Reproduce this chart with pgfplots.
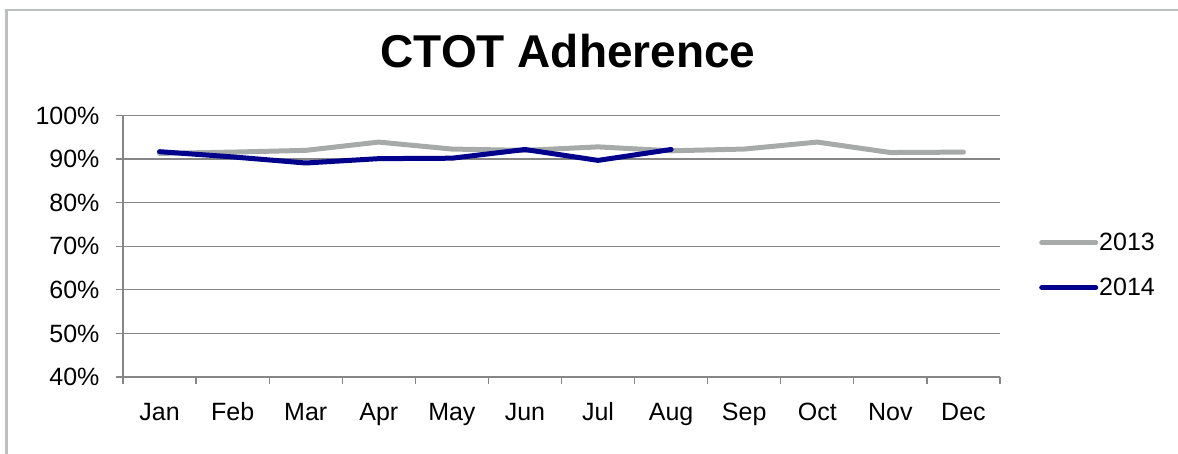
\documentclass[border=0pt]{standalone}
\usepackage{pgfplots}
\pgfplotsset{compat=1.18}
\usepackage{fontspec}
\setmainfont{Liberation Sans}
\definecolor{gline}{RGB}{166,171,170}
\definecolor{bline}{RGB}{0,0,140}
\definecolor{gridc}{RGB}{134,134,134}
\definecolor{framec}{RGB}{188,192,188}
\begin{document}
\begin{tikzpicture}[x=1pt,y=1pt]
\useasboundingbox (0,0) rectangle (1178,454);
\draw[framec, line width=2.5pt] (6.5,-10) -- (6.5,444) -- (1190,444);
\node[anchor=base, font=\fontsize{46}{50}\selectfont\bfseries, inner sep=0pt] at (568,386) {CTOT Adherence};
\begin{axis}[
  at={(123pt,77pt)}, anchor=south west, scale only axis,
  width=877pt, height=261.5pt,
  xmin=0.5, xmax=12.5, ymin=40, ymax=100,
  axis lines*=left,
  axis line style={gridc, line width=1.3pt, -},
  xtick={1,...,12},
  xticklabels={Jan,Feb,Mar,Apr,May,Jun,Jul,Aug,Sep,Oct,Nov,Dec},
  minor xtick={0.5,1.5,...,12.5},
  ytick={40,50,...,100},
  minor ytick={40,50,...,100},
  major tick length=0pt, minor tick length=7pt,
  tick align=outside,
  tick style={gridc, line width=1.3pt},
  ymajorgrids, grid style={gridc, line width=1.3pt},
  /pgf/number format/assume math mode=true,
  yticklabel={\pgfmathprintnumber{\tick}\%},
  ticklabel style={font=\fontsize{25}{30}\selectfont},
  yticklabel style={xshift=-20pt},
  xticklabel style={anchor=base, yshift=-44pt},
  legend style={draw=none, fill=none, at={(axis description cs:1.0445,0.428)}, anchor=west,
    font=\fontsize{25}{30}\selectfont, inner sep=0pt, row sep=24pt,
    nodes={inner sep=1pt}},
  legend cell align=left,
  legend image code/.code={\draw[#1, line width=5pt, line cap=round] (0pt,0pt) -- (54pt,0pt);},
]
\addplot[gline, line width=5pt, line join=round, line cap=round] coordinates {
 (1,91.3) (2,91.6) (3,92.0) (4,93.9) (5,92.3) (6,92.0) (7,92.8) (8,91.9) (9,92.3) (10,93.9) (11,91.5) (12,91.6)};
\addlegendentry{2013}
\addplot[bline, line width=5pt, line join=round, line cap=round] coordinates {
 (1,91.7) (2,90.5) (3,89.1) (4,90.1) (5,90.2) (6,92.2) (7,89.7) (8,92.2)};
\addlegendentry{2014}
\end{axis}
\end{tikzpicture}
\end{document}
